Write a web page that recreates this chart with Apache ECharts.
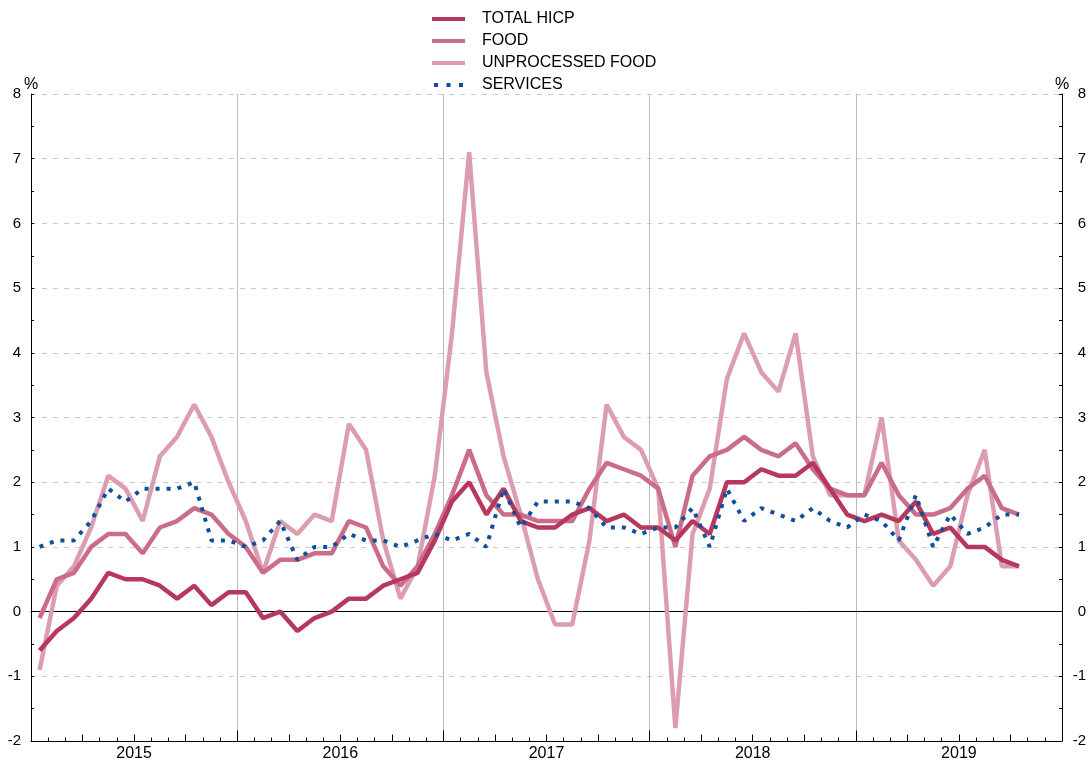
<!DOCTYPE html>
<html><head><meta charset="utf-8">
<script src="https://cdn.jsdelivr.net/npm/echarts@6/dist/echarts.min.js"></script>
<style>html,body{margin:0;padding:0;background:#fff}#c{width:1088px;height:760px}</style>
</head><body><div id="c"></div>
<script>
// ---- categories ----
const years = ['2015', '2016', '2017', '2018', '2019'];
const monthNames = ['Jan', 'Feb', 'Mar', 'Apr', 'May', 'Jun', 'Jul', 'Aug', 'Sep', 'Oct', 'Nov', 'Dec'];
const quarterNames = ['Q1', 'Q2', 'Q3', 'Q4'];
const legendNames = ['TOTAL HICP', 'FOOD', 'UNPROCESSED FOOD', 'SERVICES'];
const yMin = -2, yMax = 8, yStep = 1;

// ---- series values (Jan 2015 - Oct 2019), % y/y ----
const totalHICP = [-0.6, -0.3, -0.1, 0.2, 0.6, 0.5, 0.5, 0.4, 0.2, 0.4, 0.1, 0.3,
  0.3, -0.1, 0.0, -0.3, -0.1, 0.0, 0.2, 0.2, 0.4, 0.5, 0.6, 1.1,
  1.7, 2.0, 1.5, 1.9, 1.4, 1.3, 1.3, 1.5, 1.6, 1.4, 1.5, 1.3,
  1.3, 1.1, 1.4, 1.2, 2.0, 2.0, 2.2, 2.1, 2.1, 2.3, 1.9, 1.5,
  1.4, 1.5, 1.4, 1.7, 1.2, 1.3, 1.0, 1.0, 0.8, 0.7];
const food = [-0.1, 0.5, 0.6, 1.0, 1.2, 1.2, 0.9, 1.3, 1.4, 1.6, 1.5, 1.2,
  1.0, 0.6, 0.8, 0.8, 0.9, 0.9, 1.4, 1.3, 0.7, 0.4, 0.7, 1.2,
  1.8, 2.5, 1.8, 1.5, 1.5, 1.4, 1.4, 1.4, 1.9, 2.3, 2.2, 2.1,
  1.9, 1.0, 2.1, 2.4, 2.5, 2.7, 2.5, 2.4, 2.6, 2.2, 1.9, 1.8,
  1.8, 2.3, 1.8, 1.5, 1.5, 1.6, 1.9, 2.1, 1.6, 1.5];
const unprocessedFood = [-0.9, 0.4, 0.7, 1.3, 2.1, 1.9, 1.4, 2.4, 2.7, 3.2, 2.7, 2.0,
  1.4, 0.6, 1.4, 1.2, 1.5, 1.4, 2.9, 2.5, 1.1, 0.2, 0.7, 2.1,
  4.3, 7.1, 3.7, 2.4, 1.5, 0.5, -0.2, -0.2, 1.1, 3.2, 2.7, 2.5,
  1.9, -1.8, 1.2, 1.9, 3.6, 4.3, 3.7, 3.4, 4.3, 2.4, 1.8, 1.8,
  1.8, 3.0, 1.1, 0.8, 0.4, 0.7, 1.8, 2.5, 0.7, 0.7];
const services = [1.0, 1.1, 1.1, 1.4, 1.9, 1.7, 1.9, 1.9, 1.9, 2.0, 1.1, 1.1,
  1.0, 1.1, 1.4, 0.8, 1.0, 1.0, 1.2, 1.1, 1.1, 1.0, 1.1, 1.2,
  1.1, 1.2, 1.0, 1.9, 1.3, 1.7, 1.7, 1.7, 1.6, 1.3, 1.3, 1.2,
  1.3, 1.3, 1.6, 1.0, 1.9, 1.4, 1.6, 1.5, 1.4, 1.6, 1.4, 1.3,
  1.5, 1.4, 1.1, 1.8, 1.0, 1.5, 1.2, 1.3, 1.5, 1.5];

// ---- derived category lists ----
const months = [];
years.forEach(y => monthNames.forEach(m => months.push(m + ' ' + y)));
const quarters = [];
years.forEach(y => quarterNames.forEach(q => quarters.push(q + ' ' + y)));

const FONT = '"Liberation Sans", Arial, Helvetica, sans-serif';
const COLORS = { total: '#b6385c', food: '#c96d8a', unproc: '#dd9db1', services: '#0e4f9f' };
const SOLID_ICON = 'rect';
const DOTS_ICON = 'path://M0,0h4v4h-4z M12.5,0h4v4h-4z M25,0h4v4h-4z';

const baseX = {
  type: 'category', gridIndex: 0, position: 'bottom', boundaryGap: true,
  axisLine: { show: false, onZero: false },
  axisLabel: { show: false }, splitLine: { show: false }, axisTick: { show: false }
};
const tickStyle = { color: '#000', width: 1 };
const nameStyle = { fontFamily: FONT, fontSize: 16, color: '#000', align: 'center', verticalAlign: 'bottom' };

const chart = echarts.init(document.getElementById('c'), null, { renderer: 'canvas' });
chart.setOption({
  animation: false,
  backgroundColor: '#fff',
  grid: { left: 31, right: 26, top: 94, bottom: 19, containLabel: false, outerBoundsMode: 'none' },
  legend: {
    orient: 'vertical', left: 432, top: 10, padding: 0,
    itemWidth: 33, itemHeight: 4, itemGap: 4,
    itemStyle: { borderWidth: 0 },
    lineStyle: { width: 0 },
    data: [
      { name: legendNames[0], icon: SOLID_ICON },
      { name: legendNames[1], icon: SOLID_ICON },
      { name: legendNames[2], icon: SOLID_ICON },
      { name: legendNames[3], icon: DOTS_ICON }
    ],
    textStyle: { fontFamily: FONT, fontSize: 16, color: '#000', padding: [0, 0, 0, 12], lineHeight: 18 }
  },
  xAxis: [
    Object.assign({}, baseX, {
      data: months,
      axisLine: { show: true, onZero: false, lineStyle: { color: '#000', width: 1 } },
      axisTick: { show: true, inside: true, interval: 0, length: 3.5, lineStyle: tickStyle }
    }),
    Object.assign({}, baseX, {
      data: quarters,
      axisTick: { show: true, inside: true, interval: 0, length: 6.5, lineStyle: tickStyle }
    }),
    Object.assign({}, baseX, {
      data: years,
      axisTick: { show: true, inside: true, interval: 0, length: 10.5, lineStyle: tickStyle },
      axisLabel: { show: true, interval: 0, margin: 5, fontFamily: FONT, fontSize: 16, color: '#000' },
      splitLine: { show: true, interval: 0, lineStyle: { color: '#b9b9b9', width: 1 } }
    }),
    Object.assign({}, baseX, {
      data: months,
      axisLine: { show: true, onZero: true, onZeroAxisIndex: 0, lineStyle: { color: '#000', width: 1 } }
    })
  ],
  yAxis: [
    {
      type: 'value', position: 'left', min: yMin, max: yMax, interval: yStep,
      name: '%', nameLocation: 'end', nameGap: 1, nameMoveOverlap: false,
      nameTextStyle: nameStyle,
      axisLine: { show: true, lineStyle: { color: '#000', width: 1 } },
      axisTick: { show: true, inside: true, length: 3, lineStyle: tickStyle },
      minorTick: { show: true, splitNumber: 2, length: 3, lineStyle: tickStyle },
      axisLabel: { fontFamily: FONT, fontSize: 15, color: '#000', margin: 10 },
      splitLine: { show: true, lineStyle: { color: '#cbcbcb', type: [5, 6], width: 1 } }
    },
    {
      type: 'value', position: 'right', min: yMin, max: yMax, interval: yStep,
      name: '%', nameLocation: 'end', nameGap: 1, nameMoveOverlap: false,
      nameTextStyle: nameStyle,
      axisLine: { show: true, lineStyle: { color: '#000', width: 1 } },
      axisTick: { show: true, inside: true, length: 3, lineStyle: tickStyle },
      minorTick: { show: true, splitNumber: 2, length: 3, lineStyle: tickStyle },
      axisLabel: { fontFamily: FONT, fontSize: 15, color: '#000', margin: 24, align: 'right' },
      splitLine: { show: false }
    }
  ],
  series: [
    {
      name: 'UNPROCESSED FOOD', type: 'line', xAxisIndex: 0, yAxisIndex: 0,
      data: unprocessedFood, symbol: 'none', z: 2,
      lineStyle: { color: COLORS.unproc, width: 4.5, join: 'bevel' },
      itemStyle: { color: COLORS.unproc }
    },
    {
      name: 'FOOD', type: 'line', xAxisIndex: 0, yAxisIndex: 0,
      data: food, symbol: 'none', z: 3,
      lineStyle: { color: COLORS.food, width: 4.5, join: 'bevel' },
      itemStyle: { color: COLORS.food }
    },
    {
      name: 'TOTAL HICP', type: 'line', xAxisIndex: 0, yAxisIndex: 0,
      data: totalHICP, symbol: 'none', z: 4,
      lineStyle: { color: COLORS.total, width: 4.5, join: 'bevel' },
      itemStyle: { color: COLORS.total }
    },
    {
      name: 'SERVICES', type: 'line', xAxisIndex: 0, yAxisIndex: 0,
      data: services, symbol: 'none', z: 5,
      lineStyle: { color: COLORS.services, width: 4, type: [4, 7], cap: 'butt' },
      itemStyle: { color: COLORS.services }
    }
  ]
});
</script>
</body></html>
